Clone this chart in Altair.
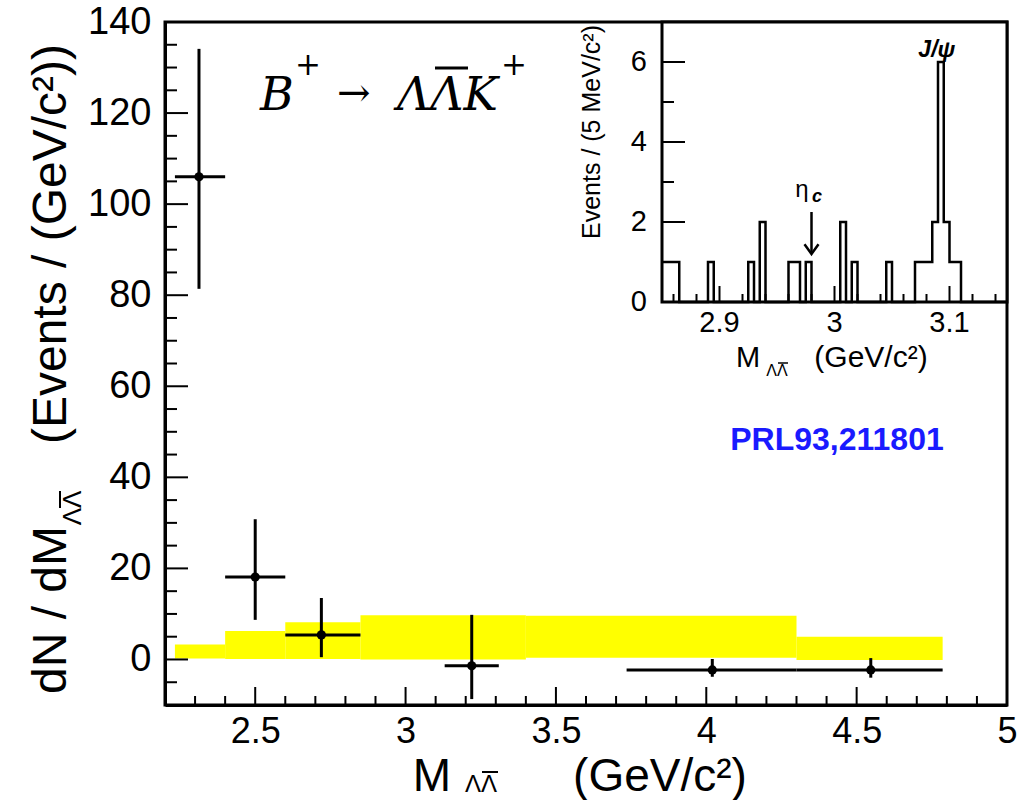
import altair as alt
import pandas as pd

# ---------------- main panel data ----------------
pt_x = [2.313, 2.50, 2.72, 3.22, 4.02, 4.547]
pt_y = [106.0, 18.1, 5.4, -1.4, -2.3, -2.3]
pt_ylo = [81.4, 8.7, 0.5, -8.7, -3.8, -4.0]
pt_yhi = [134.1, 30.8, 13.5, 9.8, 0.1, 0.3]
pt_xlo = [2.233, 2.40, 2.60, 3.13, 3.735, 4.30]
pt_xhi = [2.40, 2.60, 2.85, 3.31, 4.30, 4.786]

band_lo = [2.233, 2.40, 2.60, 2.85, 3.40, 4.30]
band_hi = [2.40, 2.60, 2.85, 3.40, 4.30, 4.786]
band_bot = [0.2, 0.1, 0.1, 0.0, 0.4, -0.1]
band_top = [3.3, 6.25, 8.2, 9.7, 9.6, 5.0]

x_major = [2.5, 3.0, 3.5, 4.0, 4.5, 5.0]
x_minor = [2.3, 2.4, 2.6, 2.7, 2.8, 2.9, 3.1, 3.2, 3.3, 3.4, 3.6, 3.7, 3.8, 3.9,
           4.1, 4.2, 4.3, 4.4, 4.6, 4.7, 4.8, 4.9]
y_major = [0, 20, 40, 60, 80, 100, 120, 140]
y_minor = [-5, 5, 10, 15, 25, 30, 35, 45, 50, 55, 65, 70, 75, 85, 90, 95,
           105, 110, 115, 125, 130, 135]

# ---------------- inset data (5 MeV bins, 2.85 - 3.15) ----------------
ins_start = 2.85
ins_width = 0.005
ins_counts = [1, 1, 1, 0, 0, 0, 0, 0, 1, 0,
              0, 0, 0, 0, 0, 1, 0, 2, 0, 0,
              0, 0, 1, 1, 0, 1, 0, 0, 0, 0,
              0, 2, 0, 1, 0, 0, 0, 0, 0, 1,
              0, 0, 0, 0, 1, 1, 1, 2, 6, 2,
              1, 1, 0, 0, 0, 0, 0, 0, 0, 0]
ins_x_major = [2.9, 3.0, 3.1]
ins_x_minor = [2.86, 2.88, 2.92, 2.94, 2.96, 2.98, 3.02, 3.04, 3.06, 3.08, 3.12, 3.14]
ins_y_major = [2, 4, 6]
ins_y_minor = [1, 3, 5]
ins_y_labels = [0, 2, 4, 6]

FONT = "Liberation Sans"
W, H = 842, 683

# ---------------- main panel ----------------
xs = alt.Scale(domain=[2.2, 5.0], nice=False, zero=False)
ys = alt.Scale(domain=[-10, 140], nice=False, zero=False)
xaxis = alt.Axis(values=x_major, format="~g", title=None, ticks=False, grid=False,
                 labelFontSize=36, labelFont=FONT, labelColor="black", labelPadding=9,
                 domainColor="black", domainWidth=3, labelFlush=False, labelOverlap=False)
yaxis = alt.Axis(values=y_major, format="d", title=None, ticks=False, grid=False,
                 labelFontSize=38, labelFont=FONT, labelColor="black", labelPadding=14,
                 domainColor="black", domainWidth=3, labelFlush=False, labelOverlap=False)


def X(f):
    return alt.X(f, type="quantitative", scale=xs, axis=xaxis)


def Y(f):
    return alt.Y(f, type="quantitative", scale=ys, axis=yaxis)


bands_df = pd.DataFrame({"lo": band_lo, "hi": band_hi, "bot": band_bot, "top": band_top})
pts_df = pd.DataFrame({"x": pt_x, "y": pt_y, "ylo": pt_ylo, "yhi": pt_yhi,
                       "xlo": pt_xlo, "xhi": pt_xhi})

bands = alt.Chart(bands_df).mark_rect(color="#ffff00").encode(
    x=X("lo"), x2="hi", y=Y("bot"), y2="top")
verr = alt.Chart(pts_df).mark_rule(color="black", strokeWidth=3).encode(
    x=X("x"), y=Y("ylo"), y2="yhi")
herr = alt.Chart(pts_df).mark_rule(color="black", strokeWidth=3).encode(
    x=X("xlo"), x2="xhi", y=Y("y"))
dots = alt.Chart(pts_df).mark_circle(color="black", size=85, opacity=1).encode(
    x=X("x"), y=Y("y"))

ytick_maj = alt.Chart(pd.DataFrame({"v": y_major[:-1]})).mark_rule(color="black", strokeWidth=2).encode(
    y=Y("v"), x=alt.value(0), x2=alt.value(23))
ytick_min = alt.Chart(pd.DataFrame({"v": y_minor})).mark_rule(color="black", strokeWidth=2).encode(
    y=Y("v"), x=alt.value(0), x2=alt.value(12))
xtick_maj = alt.Chart(pd.DataFrame({"v": x_major[:-1]})).mark_rule(color="black", strokeWidth=2).encode(
    x=X("v"), y=alt.value(H), y2=alt.value(H - 18))
xtick_min = alt.Chart(pd.DataFrame({"v": x_minor})).mark_rule(color="black", strokeWidth=2).encode(
    x=X("v"), y=alt.value(H), y2=alt.value(H - 9))


def label(text, px, py, size, **kw):
    opts = dict(fontSize=size, font=FONT, color="black", align="center", baseline="middle")
    opts.update(kw)
    return alt.Chart(pd.DataFrame({"t": [text]})).mark_text(**opts).encode(
        x=alt.value(px), y=alt.value(py), text="t:N")


def bar(x1, y1, x2, y2, w=2):
    return alt.Chart(pd.DataFrame({"t": [0]})).mark_rule(color="black", strokeWidth=w).encode(
        x=alt.value(x1), x2=alt.value(x2), y=alt.value(y1), y2=alt.value(y2))


LL = "\u039b\u039b"
SERIF = "DejaVu Serif"

main_texts = [
    # y title (rotated)
    label("dN / dM", -113, 588, 48, angle=270),
    label(LL, -92, 486, 26, angle=270),
    bar(-105, 469, -105, 486),
    label("(Events / (GeV/c\u00b2))", -113, 222, 48, angle=270),
    # x title
    label("M", 267, 755, 46),
    label(LL, 316, 763, 24),
    bar(317, 750, 333, 750),
    label("(GeV/c\u00b2)", 495, 755, 46),
    # formula
    label("B", 95, 88, 46, font=SERIF, fontStyle="italic", align="left", baseline="alphabetic"),
    label("+", 130, 44, 31, font=SERIF, align="left"),
    label("\u2192", 172, 72, 40, font=SERIF, align="left"),
    label("\u039b\u039bK", 232, 88, 46, font=SERIF, fontStyle="italic", align="left", baseline="alphabetic"),
    bar(270, 46, 303, 46, 3),
    label("+", 336, 44, 31, font=SERIF, align="left"),
    # reference
    label("PRL93,211801", 672, 418, 32, fontWeight="bold", color="#1a1aff"),
]

main = alt.layer(bands, verr, herr, dots, ytick_maj, ytick_min, xtick_maj, xtick_min, *main_texts)

# ---------------- inset ----------------
IX0, IX1, IYB = 497, W, 280
ixs = alt.Scale(domain=[2.85, 3.15], range=[IX0, IX1], nice=False, zero=False)
iys = alt.Scale(domain=[0, 7], range=[IYB, 0], nice=False, zero=False)


def IX(f):
    return alt.X(f, type="quantitative", scale=ixs, axis=None)


def IY(f):
    return alt.Y(f, type="quantitative", scale=iys, axis=None)


frame = alt.Chart(pd.DataFrame({"t": [0]})).mark_rect(fill="white", stroke="black", strokeWidth=3).encode(
    x=alt.value(IX0), x2=alt.value(IX1), y=alt.value(0), y2=alt.value(IYB))

edges = [round(ins_start + i * ins_width, 4) for i in range(len(ins_counts) + 1)]
hist_df = pd.DataFrame({"x": edges, "c": ins_counts + [0]})
hist = alt.Chart(hist_df).mark_line(interpolate="step-after", color="black", strokeWidth=2.5).encode(
    x=IX("x"), y=IY("c"))

iyt_maj = alt.Chart(pd.DataFrame({"v": ins_y_major})).mark_rule(color="black", strokeWidth=2).encode(
    y=IY("v"), x=alt.value(IX0), x2=alt.value(IX0 + 23))
iyt_min = alt.Chart(pd.DataFrame({"v": ins_y_minor})).mark_rule(color="black", strokeWidth=2).encode(
    y=IY("v"), x=alt.value(IX0), x2=alt.value(IX0 + 12))
ixt_maj = alt.Chart(pd.DataFrame({"v": ins_x_major})).mark_rule(color="black", strokeWidth=2).encode(
    x=IX("v"), y=alt.value(IYB), y2=alt.value(IYB - 16))
ixt_min = alt.Chart(pd.DataFrame({"v": ins_x_minor})).mark_rule(color="black", strokeWidth=2).encode(
    x=IX("v"), y=alt.value(IYB), y2=alt.value(IYB - 8))

ixlab = alt.Chart(pd.DataFrame({"v": ins_x_major})).mark_text(
    fontSize=29, font=FONT, color="black", align="center", baseline="middle").encode(
    x=IX("v"), y=alt.value(301), text=alt.Text("v:Q", format="~g"))
iylab = alt.Chart(pd.DataFrame({"v": ins_y_labels})).mark_text(
    fontSize=29, font=FONT, color="black", align="right", baseline="middle").encode(
    y=IY("v"), x=alt.value(IX0 - 15), text=alt.Text("v:Q", format="d"))


def dlabel(text, xv, yv, size, **kw):
    opts = dict(fontSize=size, font=FONT, color="black", align="center", baseline="middle")
    opts.update(kw)
    return alt.Chart(pd.DataFrame({"t": [text], "x": [xv], "y": [yv]})).mark_text(**opts).encode(
        x=IX("x"), y=IY("y"), text="t:N")


arrow_df = pd.DataFrame({"x": [2.98], "y0": [1.2], "y1": [2.25]})
arrow = alt.Chart(arrow_df).mark_rule(color="black", strokeWidth=2.5).encode(
    x=IX("x"), y=IY("y0"), y2="y1")
arrow_head = alt.Chart(arrow_df).mark_point(
    shape="M-1,-1.4L0,0L1,-1.4", filled=False, color="black", strokeWidth=2.5, size=196, opacity=1).encode(
    x=IX("x"), y=IY("y0"))

inset_texts = [
    dlabel("J/\u03c8", 3.089, 6.3, 23, fontWeight="bold", fontStyle="italic"),
    dlabel("\u03b7", 2.9717, 2.8, 24),
    dlabel("c", 2.9848, 2.62, 18, fontWeight="bold", fontStyle="italic"),
    label("Events / (5 MeV/c\u00b2)", 427, 110, 25, angle=270),
    label("M", 583, 336, 29),
    label(LL, 612, 349, 16),
    bar(613, 341, 623, 341, 1.5),
    label("(GeV/c\u00b2)", 706, 336, 30),
]

inset = alt.layer(frame, hist, iyt_maj, iyt_min, ixt_maj, ixt_min, ixlab, iylab,
                  arrow, arrow_head, *inset_texts)

chart = alt.layer(main, inset).resolve_scale(x="independent", y="independent").properties(
    width=W, height=H,
    autosize=alt.AutoSizeParams(type="none"),
    padding={"left": 165, "top": 22, "right": 13, "bottom": 95},
    background="white",
).configure_view(stroke="black", strokeWidth=3)

chart.save("out.html", embed_options={"renderer": "svg", "actions": False})
